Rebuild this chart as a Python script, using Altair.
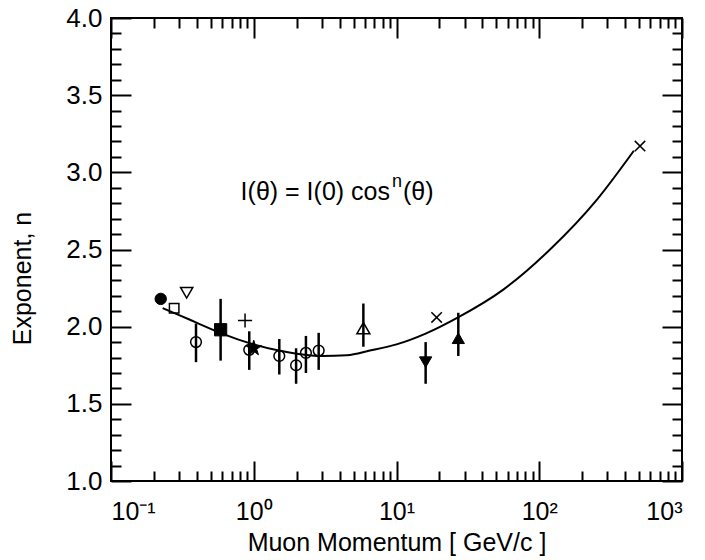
import altair as alt
import pandas as pd

# ---- data ----
curve_p = [0.23, 0.3, 0.4, 0.6, 1.0, 1.5, 2.0, 3.0, 4.5, 6.5, 10, 16, 27, 56, 119, 252, 460]
curve_n = [2.12, 2.075, 2.025, 1.955, 1.885, 1.845, 1.825, 1.81, 1.815, 1.845, 1.885, 1.955, 2.06, 2.24, 2.50, 2.82, 3.14]

pt_p = [0.223, 0.277, 0.339, 0.394, 0.586, 0.869, 0.93, 1.0, 1.51, 1.98, 2.32, 2.85, 5.86, 16.0, 19.1, 27.1, 508]
pt_n = [2.18, 2.12, 2.22, 1.90, 1.98, 2.04, 1.85, 1.86, 1.81, 1.75, 1.83, 1.845, 1.99, 1.77, 2.06, 1.925, 3.17]
pt_lo = [None, None, None, 1.77, 1.78, None, 1.72, None, 1.69, 1.63, 1.70, 1.72, 1.87, 1.63, None, 1.81, None]
pt_hi = [None, None, None, 2.02, 2.18, None, 1.97, None, 1.92, 1.86, 1.94, 1.96, 2.15, 1.90, None, 2.09, None]
pt_sym = ["dot", "osq", "otridown", "ocirc", "sq", "plus", "ocirc", "star", "ocirc", "ocirc",
          "ocirc", "ocirc", "otriup", "tridown", "x", "triup", "x"]

x_major = [0.1, 1, 10, 100, 1000]
x_minor = [k * 10 ** d for d in range(-1, 3) for k in range(2, 10)]
y_major = [1.0, 1.5, 2.0, 2.5, 3.0, 3.5, 4.0]
y_minor = [round(1 + 0.1 * i, 1) for i in range(31) if i % 5 != 0]

# formula annotation: main part, superscript, closing part (anchored at one data point)
formula_main = ["I(θ) = I(0) cos"]
formula_sup = ["n"]
formula_tail = ["(θ)"]
formula_p = [9.0]
formula_n = [2.87]

# ---- styles ----
STAR = ("M0,-1L0.223,-0.307L0.951,-0.309L0.361,0.117L0.588,0.809L0,0.38L-0.588,0.809"
        "L-0.361,0.117L-0.951,-0.309L-0.223,-0.307Z")
PLUS = "M-1,0L1,0M0,-1L0,1"
XMARK = "M-1,-1L1,1M-1,1L1,-1"
sym_style = {
    "dot": ("circle", 130, True),
    "osq": ("square", 90, False),
    "otridown": ("triangle-down", 150, False),
    "ocirc": ("circle", 115, False),
    "sq": ("square", 150, True),
    "plus": (PLUS, 200, False),
    "star": (STAR, 260, True),
    "otriup": ("triangle-up", 170, False),
    "tridown": ("triangle-down", 150, True),
    "x": (XMARK, 110, False),
    "triup": ("triangle-up", 150, True),
}
sym_domain = list(sym_style.keys())
sym_range = [sym_style[s][0] for s in sym_domain]

curve_df = pd.DataFrame({"p": curve_p, "n": curve_n})
pts = pd.DataFrame({"p": pt_p, "n": pt_n, "lo": pt_lo, "hi": pt_hi, "sym": pt_sym})
pts["size"] = [sym_style[s][1] for s in pts["sym"]]
pts["filled"] = [sym_style[s][2] for s in pts["sym"]]
pts["fill"] = ["black" if f else "transparent" for f in pts["filled"]]
err = pts.dropna(subset=["lo", "hi"])
filled_pts = pts[pts["filled"]]
open_pts = pts[~pts["filled"]]
txt_df = pd.DataFrame({"p": formula_p, "n": formula_n, "main": formula_main,
                       "sup": formula_sup, "tail": formula_tail})

W, H = 571, 463
FONT = "Liberation Sans"
xs = alt.Scale(type="log", domain=[0.1, 1000], nice=False)
ys = alt.Scale(domain=[1, 4], nice=False, zero=False)


def tick_axis(orient, offset, values, size):
    return alt.Axis(orient=orient, offset=offset, values=values, tickSize=size,
                    tickWidth=2, tickColor="black", labels=False, domain=False,
                    grid=False, title=None)


sup_expr = ("datum.value < 0.5 ? '10⁻¹' : datum.value < 5 ? '10⁰' : "
            "datum.value < 50 ? '10¹' : datum.value < 500 ? '10²' : '10³'")

curve = alt.Chart(curve_df).mark_line(color="black", strokeWidth=2, interpolate="monotone").encode(
    x=alt.X("p:Q", scale=xs, axis=alt.Axis(orient="bottom", offset=0, values=x_major,
                                           labelExpr=sup_expr, ticks=False, domain=False,
                                           grid=False, labelPadding=18, labelFontSize=25,
                                           title="Muon  Momentum  [ GeV/c ]", titleFontSize=25,
                                           titlePadding=6)),
    y=alt.Y("n:Q", scale=ys, axis=alt.Axis(orient="left", offset=0, values=y_major,
                                           format=".1f", ticks=False, domain=False,
                                           grid=False, labelPadding=9, labelFontSize=26,
                                           title="Exponent, n", titleFontSize=25,
                                           titleX=-76, titleY=260)),
)

bars = alt.Chart(err).mark_rule(color="black", strokeWidth=2.5).encode(
    x=alt.X("p:Q", scale=xs, axis=tick_axis("top", -H, x_major, 20)),
    y=alt.Y("lo:Q", scale=ys, axis=tick_axis("right", -W, y_major, 20)),
    y2="hi:Q",
)

open_m = alt.Chart(open_pts).mark_point(strokeWidth=1.5, color="black", opacity=1).encode(
    x=alt.X("p:Q", scale=xs, axis=tick_axis("top", -H, x_minor, 10)),
    y=alt.Y("n:Q", scale=ys, axis=tick_axis("right", -W, y_minor, 10)),
    shape=alt.Shape("sym:N", scale=alt.Scale(domain=sym_domain, range=sym_range), legend=None),
    size=alt.Size("size:Q", scale=None),
    fill=alt.Fill("fill:N", scale=None),
)

filled_m = alt.Chart(filled_pts).mark_point(strokeWidth=1, color="black", opacity=1).encode(
    x=alt.X("p:Q", scale=xs, axis=tick_axis("bottom", -H, x_major, 20)),
    y=alt.Y("n:Q", scale=ys, axis=tick_axis("left", -W, y_major, 20)),
    shape=alt.Shape("sym:N", scale=alt.Scale(domain=sym_domain, range=sym_range), legend=None),
    size=alt.Size("size:Q", scale=None),
    fill=alt.Fill("fill:N", scale=None),
)

t_main = alt.Chart(txt_df).mark_text(font=FONT, fontSize=25, color="black", align="right",
                                     baseline="middle").encode(
    x=alt.X("p:Q", scale=xs, axis=tick_axis("bottom", -H, x_minor, 10)),
    y=alt.Y("n:Q", scale=ys, axis=tick_axis("left", -W, y_minor, 10)),
    text="main:N",
)
t_sup = alt.Chart(txt_df).mark_text(font=FONT, fontSize=18, color="black", align="left",
                                    baseline="middle", dx=2, dy=-10).encode(
    x=alt.X("p:Q", scale=xs, axis=None),
    y=alt.Y("n:Q", scale=ys, axis=None),
    text="sup:N",
)
t_tail = alt.Chart(txt_df).mark_text(font=FONT, fontSize=25, color="black", align="left",
                                     baseline="middle", dx=13).encode(
    x=alt.X("p:Q", scale=xs, axis=None),
    y=alt.Y("n:Q", scale=ys, axis=None),
    text="tail:N",
)

chart = alt.layer(curve, bars, open_m, filled_m, t_main, t_sup, t_tail).resolve_axis(
    x="independent", y="independent"
).properties(
    width=W, height=H,
    autosize=alt.AutoSizeParams(type="none"),
    padding={"left": 111, "top": 18, "right": 23, "bottom": 79},
    background="white",
).configure_view(stroke="black", strokeWidth=2).configure_axis(
    labelFont=FONT, titleFont=FONT, labelColor="black", titleColor="black",
    titleFontWeight="normal",
)

chart.save("out.html", embed_options={"renderer": "svg", "actions": False})
